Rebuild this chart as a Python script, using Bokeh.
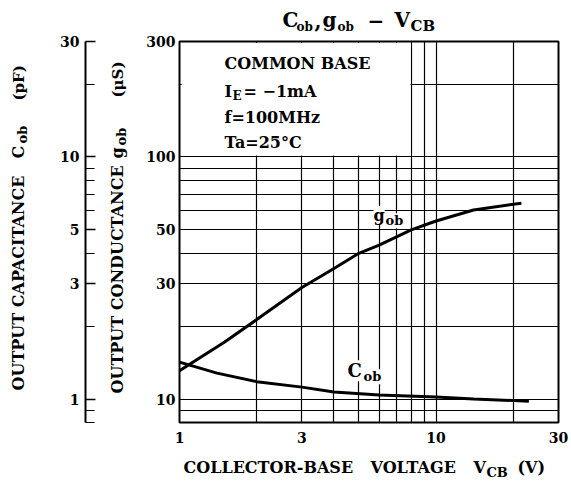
import math
from bokeh.plotting import figure
from bokeh.layouts import column, row
from bokeh.models import (Range1d, LogScale, LinearScale, FixedTicker, Label,
                          BoxAnnotation, PrintfTickFormatter)
from bokeh.core.properties import value
from bokeh.embed import file_html
from bokeh.resources import INLINE

# ---- data ----
V_gob = [1, 1.5, 2, 3, 4, 5, 6, 8, 10, 14, 20, 21.5]
gob = [13.1, 17.2, 21.3, 28.9, 34.6, 40.0, 43.2, 50.0, 54.4, 60.4, 63.8, 64.4]   # uS

V_cob = [1, 1.4, 2, 3, 4, 6, 10, 14, 23]
cob = [1.42, 1.28, 1.18, 1.12, 1.07, 1.04, 1.02, 1.0, 0.98]                     # pF

x_ticks = [1, 3, 10, 30]
x_grid = [2, 3, 4, 5, 6, 7, 8, 9, 10, 20]
gob_ticks = [10, 30, 50, 100, 300]
gob_grid = [9, 10, 20, 30, 40, 50, 60, 70, 80, 90, 100, 200]
cob_ticks = [1, 3, 5, 10, 30]
cob_minor = [0.8, 0.9, 2, 4, 6, 7, 8, 9, 20]

FONT = "DejaVu Serif"

# layout geometry (page pixels)
TOP_H = 34          # title strip
MID_TOP = 7         # border above frames
FRAME_H = 381
MID_BOT = 26
BOT_H = 34
A_W = 57            # strip holding Cob axis title
B_LEFT = 26         # Cob tick labels
B_FRAME = 57        # strip holding gob axis title
C_LEFT = 37
C_FRAME = 379
C_RIGHT = 14
TOTAL_W = A_W + B_LEFT + B_FRAME + C_LEFT + C_FRAME + C_RIGHT
MID_H = MID_TOP + FRAME_H + MID_BOT
FL = A_W + B_LEFT + B_FRAME + C_LEFT            # frame left (page)
FT = TOP_H + MID_TOP                            # frame top (page)
FB = FT + FRAME_H                               # frame bottom (page)
BASE_K = 0.375      # baseline correction (fraction of font size)


def bare(width, height, xr, yr, **kw):
    f = figure(width=width, height=height, x_range=xr, y_range=yr,
               x_axis_location=None, y_axis_location=None, toolbar_location=None,
               output_backend="svg", title=None, min_border=0, **kw)
    f.grid.visible = False
    f.outline_line_color = None
    f.background_fill_color = "white"
    f.border_fill_color = "white"
    return f


def txt(fig, s, x, y, size=16, angle=0.0, baseline="alphabetic", **kw):
    if angle == 0.0:
        y = y - BASE_K * size
    else:
        x = x - 0.19 * size
    fig.text(x=[x], y=[y], text=[s], text_font=value(FONT), text_font_size=value(f"{size}px"),
             text_font_style=value("bold"), text_color="black", angle=angle,
             text_align=value("left"), text_baseline=value(baseline), **kw)

# ---------------- main chart ----------------
p = figure(frame_width=C_FRAME, frame_height=FRAME_H, x_axis_type="log", y_axis_type="log",
           x_range=Range1d(1, 30), y_range=Range1d(8, 300),
           output_backend="svg", toolbar_location=None, title=None,
           min_border_left=C_LEFT, min_border_right=C_RIGHT,
           min_border_top=MID_TOP, min_border_bottom=MID_BOT)
p.background_fill_color = "white"
p.border_fill_color = "white"
p.outline_line_color = "black"
p.outline_line_width = 2
p.extra_y_ranges = {"cob": Range1d(0.8, 30)}
p.extra_y_scales = {"cob": LogScale()}


def style_axis(ax):
    ax.major_label_text_font = FONT
    ax.major_label_text_font_style = "bold"
    ax.major_label_text_font_size = "14px"
    ax.major_label_text_color = "black"
    ax.formatter = PrintfTickFormatter(format="%g")


xa = p.xaxis[0]
xa.ticker = FixedTicker(ticks=x_ticks, minor_ticks=[])
style_axis(xa)
xa.major_tick_out = 0
xa.major_tick_in = 0
xa.minor_tick_line_color = None
xa.axis_line_color = None
xa.major_label_standoff = 9

ya = p.yaxis[0]
ya.ticker = FixedTicker(ticks=gob_ticks, minor_ticks=[])
style_axis(ya)
ya.major_tick_out = 0
ya.major_tick_in = 0
ya.minor_tick_line_color = None
ya.axis_line_color = None
ya.major_label_standoff = 4

p.xgrid.ticker = FixedTicker(ticks=x_grid, minor_ticks=[])
p.ygrid.ticker = FixedTicker(ticks=gob_grid, minor_ticks=[])
p.grid.grid_line_color = "black"
p.grid.grid_line_width = 1.2
p.grid.grid_line_alpha = 1.0

# white panel behind the conditions text
p.add_layout(BoxAnnotation(left=1.02, right=7.95, bottom=101.5, top=296,
                           fill_color="white", fill_alpha=1.0, line_color=None, level="glyph"))

p.line(V_gob, gob, line_width=3, line_color="black")
p.line(V_cob, cob, y_range_name="cob", line_width=3, line_color="black")


def lab(text, px, py, size=16, bg=None):
    l = Label(x=px - FL, y=FB - py + BASE_K * size, x_units="screen", y_units="screen", text=text,
              text_font=FONT, text_font_size=f"{size}px", text_align="left",
              text_baseline="alphabetic", text_color="black", text_font_style="bold")
    if bg:
        l.background_fill_color = bg
    p.add_layout(l)


# conditions
lab("COMMON BASE", 222, 69)
lab("I", 222, 97)
lab("E", 230, 100, 12)
lab("= \u22121mA", 241, 97)
lab("f=100MHz", 222, 123)
lab("Ta=25\u00b0C", 222, 148)

# curve labels
lab("g", 371, 221, 16, bg="white")
lab("ob", 383, 225, 13, bg="white")
lab("C", 345, 377, 18, bg="white")
lab("ob", 361, 381, 13, bg="white")

A = math.pi / 2

# ---------------- Cob axis title strip ----------------
fa = figure(frame_width=A_W, frame_height=FRAME_H, x_range=Range1d(0, A_W), y_range=Range1d(FB, FT),
            x_axis_location=None, y_axis_location=None, output_backend="svg",
            toolbar_location=None, title=None, min_border_left=0, min_border_right=0,
            min_border_top=MID_TOP, min_border_bottom=MID_BOT)
fa.grid.visible = False
fa.outline_line_color = None
fa.border_fill_color = "white"
txt(fa, "OUTPUT CAPACITANCE", 21, 390, 16, angle=A, baseline="middle")
txt(fa, "C", 21, 158, 16, angle=A, baseline="middle")
txt(fa, "ob", 24, 143, 13, angle=A, baseline="middle")
txt(fa, "(pF)", 21, 100, 15, angle=A, baseline="middle")

# ---------------- Cob axis strip ----------------
fb = figure(frame_width=B_FRAME, frame_height=FRAME_H, x_range=Range1d(A_W + B_LEFT, A_W + B_LEFT + B_FRAME),
            y_axis_type="log", y_range=Range1d(0.8, 30), x_axis_location=None,
            output_backend="svg", toolbar_location=None, title=None,
            min_border_left=B_LEFT, min_border_right=0, min_border_top=MID_TOP, min_border_bottom=MID_BOT)
fb.grid.visible = False
fb.outline_line_color = None
fb.border_fill_color = "white"
fb.extra_y_ranges = {"px": Range1d(FB, FT)}
fb.extra_y_scales = {"px": LinearScale()}
ca = fb.yaxis[0]
ca.ticker = FixedTicker(ticks=cob_ticks, minor_ticks=cob_minor)
style_axis(ca)
ca.major_tick_in = 10
ca.major_tick_out = 0
ca.minor_tick_in = 9
ca.minor_tick_out = 0
ca.axis_line_width = 2
ca.major_tick_line_width = 1.5
ca.minor_tick_line_width = 1.2
ca.major_label_standoff = 6

txt(fb, "OUTPUT CONDUCTANCE", 118, 393, 16, angle=A, baseline="middle", y_range_name="px")
txt(fb, "g", 118, 158, 16, angle=A, baseline="middle", y_range_name="px")
txt(fb, "ob", 121, 145, 13, angle=A, baseline="middle", y_range_name="px")
txt(fb, "(\u03bcS)", 118, 97, 15, angle=A, baseline="middle", y_range_name="px")

# ---------------- title strip ----------------
ft = bare(TOTAL_W, TOP_H, Range1d(0, TOTAL_W), Range1d(TOP_H, 0))
txt(ft, "C", 282, 27, 20)
txt(ft, "ob", 296, 31, 12)
txt(ft, ",", 314, 27, 20)
txt(ft, "g", 322, 27, 20)
txt(ft, "ob", 337, 31, 12)
txt(ft, "\u2212", 367, 27, 20)
txt(ft, "V", 394, 27, 20)
txt(ft, "CB", 410, 31, 15)

# ---------------- x-axis title strip ----------------
y0 = TOP_H + MID_H
fx = bare(TOTAL_W, BOT_H, Range1d(0, TOTAL_W), Range1d(y0 + BOT_H, y0))
txt(fx, "COLLECTOR-BASE", 183, 473)
txt(fx, "VOLTAGE", 370, 473)
txt(fx, "V", 473, 473)
txt(fx, "CB", 486, 477, 13)
txt(fx, "(V)", 517, 473)

layout = column(ft, row(fa, fb, p), fx)
open("out.html", "w").write(file_html(layout, INLINE))
